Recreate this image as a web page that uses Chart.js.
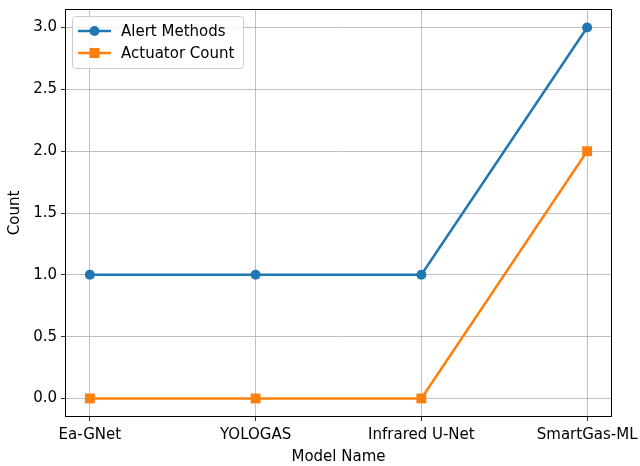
<!DOCTYPE html>
<html>
<head>
<meta charset="utf-8">
<script src="https://cdn.jsdelivr.net/npm/chart.js@4/dist/chart.umd.min.js"></script>
<style>
  html, body { margin: 0; padding: 0; background: #fff; }
  #wrap { width: 640px; height: 466px; position: relative; }
</style>
</head>
<body>
<div id="wrap"><canvas id="c" width="640" height="466"></canvas></div>
<script>
const models = ['Ea-GNet', 'YOLOGAS', 'Infrared U-Net', 'SmartGas-ML'];
const alertMethods = [1, 1, 1, 3];
const actuatorCount = [0, 0, 0, 2];
const yTicks = [0, 0.5, 1, 1.5, 2, 2.5, 3];

const FONT = 'DejaVu Sans';
const FSIZE = 15;
const BLUE = '#1f77b4';
const ORANGE = '#ff7f0e';

function points(vals) {
  return vals.map((v, i) => ({ x: i, y: v }));
}

// Legend box drawn inside the plot area, upper left
const innerLegend = {
  id: 'innerLegend',
  afterDraw(chart) {
    const ctx = chart.ctx;
    const area = chart.chartArea;
    const x0 = area.left + 7, y0 = area.top + 7;
    const w = 171, h = 52;
    ctx.save();
    ctx.beginPath();
    ctx.roundRect(x0 + 0.5, y0 + 0.5, w, h, 3);
    ctx.fillStyle = 'rgba(255,255,255,0.8)';
    ctx.fill();
    ctx.strokeStyle = '#cccccc';
    ctx.lineWidth = 1;
    ctx.stroke();
    ctx.font = FSIZE + 'px "' + FONT + '"';
    ctx.textBaseline = 'middle';
    chart.data.datasets.forEach((ds, i) => {
      const cy = y0 + 15 + i * 22;
      ctx.strokeStyle = ds.borderColor;
      ctx.lineWidth = 2.5;
      ctx.beginPath();
      ctx.moveTo(x0 + 6, cy);
      ctx.lineTo(x0 + 39, cy);
      ctx.stroke();
      ctx.fillStyle = ds.borderColor;
      if (ds.pointStyle === 'rect') {
        ctx.fillRect(x0 + 22.5 - 5, cy - 5, 10, 10);
      } else {
        ctx.beginPath();
        ctx.arc(x0 + 22.5, cy, 5, 0, Math.PI * 2);
        ctx.fill();
      }
      ctx.fillStyle = '#000';
      ctx.fillText(ds.label, x0 + 49, cy + 1);
    });
    ctx.restore();
  }
};

// Full black frame around the plot area
const frame = {
  id: 'frame',
  afterDatasetsDraw(chart) {
    const a = chart.chartArea;
    const ctx = chart.ctx;
    ctx.save();
    ctx.strokeStyle = '#000';
    ctx.lineWidth = 1;
    ctx.strokeRect(Math.round(a.left) + 0.5, Math.round(a.top) + 0.5,
                   Math.round(a.right - a.left) - 1, Math.round(a.bottom - a.top) - 1);
    ctx.restore();
  }
};

new Chart(document.getElementById('c'), {
  type: 'line',
  data: {
    datasets: [
      {
        label: 'Alert Methods',
        data: points(alertMethods),
        borderColor: BLUE,
        backgroundColor: BLUE,
        borderWidth: 2.5,
        pointStyle: 'circle',
        pointRadius: 5,
        pointBorderWidth: 0,
        tension: 0
      },
      {
        label: 'Actuator Count',
        data: points(actuatorCount),
        borderColor: ORANGE,
        backgroundColor: ORANGE,
        borderWidth: 2.5,
        pointStyle: 'rect',
        pointRadius: 7,
        pointBorderWidth: 0,
        tension: 0
      }
    ]
  },
  options: {
    responsive: false,
    animation: false,
    events: [],
    layout: { padding: { left: 0, top: 9, right: 28, bottom: 0 } },
    plugins: {
      legend: { display: false },
      tooltip: { enabled: false }
    },
    scales: {
      x: {
        type: 'linear',
        min: -0.15,
        max: 3.15,
        afterBuildTicks(scale) {
          scale.ticks = models.map((_, i) => ({ value: i }));
        },
        afterFit(scale) {
          scale.height = 49;
          scale.paddingLeft = 0;
          scale.paddingRight = 0;
        },
        ticks: {
          autoSkip: false,
          maxRotation: 0,
          color: '#000',
          padding: 5,
          font: { family: FONT, size: FSIZE },
          callback: (v) => models[v]
        },
        grid: {
          color: '#b0b0b0',
          lineWidth: 0.8,
          tickColor: '#000',
          tickLength: 4,
          drawTicks: true
        },
        border: { display: false },
        title: {
          display: true,
          text: 'Model Name',
          color: '#000',
          font: { family: FONT, size: FSIZE },
          padding: { top: 0, bottom: 0 }
        }
      },
      y: {
        type: 'linear',
        min: -0.15,
        max: 3.15,
        afterBuildTicks(scale) {
          scale.ticks = yTicks.map(v => ({ value: v }));
        },
        afterFit(scale) {
          scale.width = 65;
          scale.paddingTop = 0;
          scale.paddingBottom = 0;
        },
        ticks: {
          color: '#000',
          padding: 4,
          font: { family: FONT, size: FSIZE },
          callback: (v) => v.toFixed(1)
        },
        grid: {
          color: '#b0b0b0',
          lineWidth: 0.8,
          tickColor: '#000',
          tickLength: 4,
          drawTicks: true
        },
        border: { display: false },
        title: {
          display: true,
          text: 'Count',
          color: '#000',
          font: { family: FONT, size: FSIZE },
          padding: { top: 6, bottom: 0 }
        }
      }
    }
  },
  plugins: [frame, innerLegend]
});
</script>
</body>
</html>
